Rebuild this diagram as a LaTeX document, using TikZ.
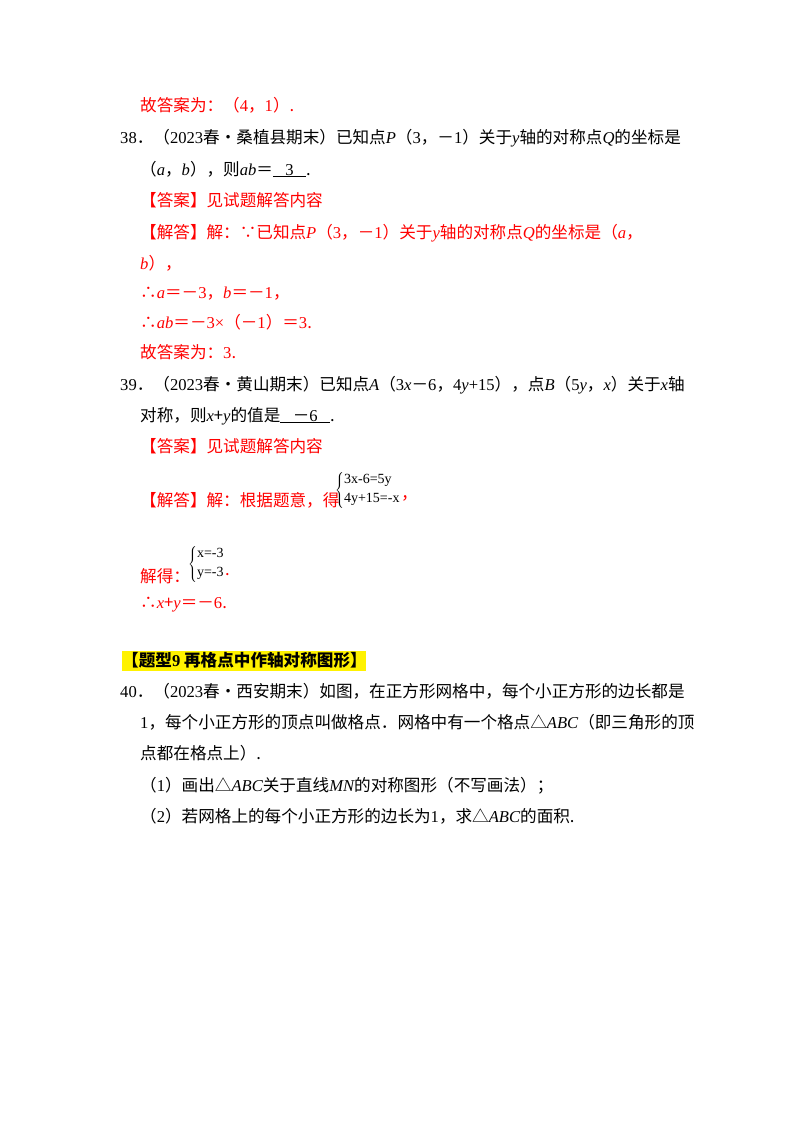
\documentclass[tikz,border=0pt]{standalone}
\usepackage{fontspec}
\setmainfont{Noto Sans CJK SC}
\newfontfamily\lat{Liberation Serif}
\newcommand{\vv}[1]{{\lat\itshape #1}}
\newcommand{\nn}[1]{{\lat #1}}
\newcommand{\mm}{{－}}
\definecolor{ans}{RGB}{255,0,0}
\begin{document}
\begin{tikzpicture}[x=1pt,y=-1pt,
  t/.style={anchor=base west,inner sep=0pt,font=\fontsize{16.6}{17}\selectfont},
  r/.style={t,text=ans},
  sys/.style={anchor=west,inner sep=0pt,font=\fontsize{14}{16}\selectfont\lat,align=left}]
\useasboundingbox (0,0) rectangle (800,1132);
\node[r] (l1) at (140,111) {故答案为：（\nn{4}，\nn{1}）.};
\node[t] (q38) at (120,143) {\nn{38}．（\nn{2023}春•桑植县期末）已知点\vv{P}（\nn{3}，\mm\nn{1}）关于\vv{y}轴的对称点\vv{Q}的坐标是};
\node[t] (q38b) at (140,175) {（\vv{a}，\vv{b}），则\vv{ab}＝\underline{\nn{\ \ \ 3\ \ \ }}.};
\node[r] (a38) at (140,206) {【答案】见试题解答内容};
\node[r] (s38) at (140,238) {【解答】解：∵已知点\vv{P}（\nn{3}，\mm\nn{1}）关于\vv{y}轴的对称点\vv{Q}的坐标是（\vv{a}，};
\node[r] (s38b) at (140,269) {\vv{b}），};
\node[r] (s38c) at (140,298) {∴\vv{a}＝\mm\nn{3}，\vv{b}＝\mm\nn{1}，};
\node[r] (s38d) at (140,328) {∴\vv{ab}＝\mm\nn{3×}（\mm\nn{1}）＝\nn{3}.};
\node[r] (s38e) at (140,358) {故答案为：\nn{3}.};
\node[t] (q39) at (120,390) {\nn{39}．（\nn{2023}春•黄山期末）已知点\vv{A}（\nn{3}\vv{x}\mm\nn{6}，\nn{4}\vv{y}\nn{+15}），点\vv{B}（\nn{5}\vv{y}，\vv{x}）关于\vv{x}轴};
\node[t] (q39b) at (140,421) {对称，则\vv{x}+\vv{y}的值是\underline{\nn{\ \ \ }\mm\nn{6\ \ \ }}.};
\node[r] (a39) at (140,452) {【答案】见试题解答内容};
\node[r] (s39) at (140,506) {【解答】解：根据题意，得};
\node[sys] (sys1) at (335,490) {$\left\{\begin{tabular}{@{}l@{}}3x-6=5y\\[3pt]4y+15=-x\end{tabular}\right.$};
\node[r,anchor=base west] (c1) at (sys1.east|-s39) {，};
\node[r] (s39b) at (140,582) {解得：};
\node[sys] (sys2) at (188,564) {$\left\{\begin{tabular}{@{}l@{}}x=-3\\[3pt]y=-3\end{tabular}\right.$};
\node[r,anchor=base west] (c2) at (sys2.east|-s39b) {.};
\node[r] (s39c) at (140,608) {∴\vv{x}+\vv{y}＝\mm\nn{6}.};
\fill[yellow] (122,651) rectangle (366,671);
\node[t,font=\fontsize{16.6}{17}\selectfont\bfseries] (h9) at (122,666) {【题型\nn{\bfseries 9} 再格点中作轴对称图形】};
\node[t] (q40) at (120,697) {\nn{40}．（\nn{2023}春•西安期末）如图，在正方形网格中，每个小正方形的边长都是};
\node[t] (q40b) at (140,728) {\nn{1}，每个小正方形的顶点叫做格点．网格中有一个格点△\vv{ABC}（即三角形的顶};
\node[t] (q40c) at (140,759) {点都在格点上）.};
\node[t] (q40d) at (140,791) {（\nn{1}）画出△\vv{ABC}关于直线\vv{MN}的对称图形（不写画法）；};
\node[t] (q40e) at (140,822) {（\nn{2}）若网格上的每个小正方形的边长为\nn{1}，求△\vv{ABC}的面积.};
\end{tikzpicture}
\end{document}
